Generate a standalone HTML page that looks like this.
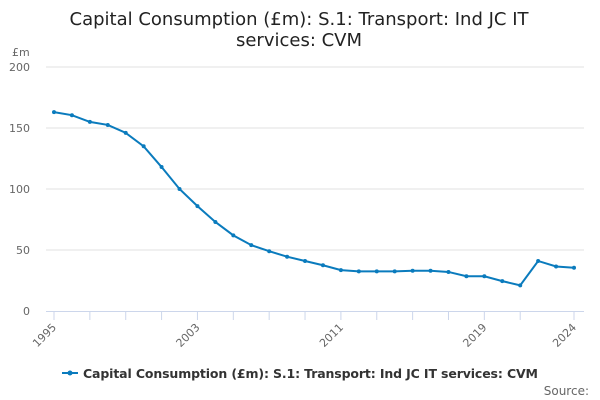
<!DOCTYPE html>
<html><head><meta charset="utf-8"><style>
body{margin:0;background:#fff;font-family:"DejaVu Sans","Liberation Sans",sans-serif;}
svg{display:block}
</style></head><body>
<svg id="chart" width="600" height="400" font-family="DejaVu Sans, Liberation Sans, sans-serif">
<text x="299" y="25" text-anchor="middle" font-size="18" fill="#222">Capital Consumption (£m): S.1: Transport: Ind JC IT</text>
<text x="299" y="46" text-anchor="middle" font-size="18" fill="#222">services: CVM</text>
<text x="12" y="56" font-size="11" fill="#666">£m</text>
<g id="grid"></g><g id="xaxis"></g><g id="series"></g>
<g>
<line x1="62" y1="373" x2="78" y2="373" stroke="#0a7bbd" stroke-width="2"/>
<circle cx="70" cy="373" r="2.5" fill="#0a7bbd"/>
<text x="83" y="378" font-size="12.5" font-weight="bold" fill="#333" textLength="455">Capital Consumption (£m): S.1: Transport: Ind JC IT services: CVM</text>
</g>
<text x="589" y="395" text-anchor="end" font-size="12" fill="#666">Source:</text>
</svg>
<script>
const years=[1995,1996,1997,1998,1999,2000,2001,2002,2003,2004,2005,2006,2007,2008,2009,2010,2011,2012,2013,2014,2015,2016,2017,2018,2019,2020,2021,2022,2023,2024];
const values=[163,160.5,155,152.5,146,135,118,100,86,73,62,54,49,44.5,41,37.5,33.5,32.5,32.5,32.5,33,33,32,28.5,28.5,24.5,21,41,36.5,35.5];
const yTicks=[0,50,100,150,200];
const xLabels=[1995,2003,2011,2019,2024];
const NS="http://www.w3.org/2000/svg";
const xs=y=>54+(y-1995)*(520/29);
const ys=v=>311-v*1.22;
function mk(tag,attrs,parent){const e=document.createElementNS(NS,tag);for(const k in attrs)e.setAttribute(k,attrs[k]);parent.appendChild(e);return e;}
const grid=document.getElementById('grid');
yTicks.forEach(t=>{
  if(t>0){const l=mk('line',{x1:46,x2:584,y1:ys(t),y2:ys(t),stroke:'#e0e0e0'},grid);
  
  }
  const tx=mk('text',{x:30,y:ys(t)+4,'text-anchor':'end','font-size':11,fill:'#666'},grid);
  tx.textContent=t;
  
  
});
const xa=document.getElementById('xaxis');
const ax=mk('line',{x1:46,x2:584,y1:311.5,y2:311.5,stroke:'#ccd6eb'},xa);


for(let y=1995;y<=2024;y+=2){
  const yy=y===2023?2024:y;
  const tk=mk('line',{x1:xs(yy),x2:xs(yy),y1:311,y2:320,stroke:'#ccd6eb'},xa);
  
  
}
xLabels.forEach(y=>{
  const t=mk('text',{x:xs(y)+3,y:328,'text-anchor':'end','font-size':11,fill:'#666',transform:`rotate(-45 ${xs(y)+3} 328)`},xa);
  t.textContent=y;
  
  
});
const s=document.getElementById('series');
const p=mk('polyline',{points:years.map((y,i)=>xs(y)+','+ys(values[i])).join(' '),fill:'none',stroke:'#0a7bbd','stroke-width':2},s);


years.forEach((y,i)=>{
  const c=mk('circle',{cx:xs(y),cy:ys(values[i]),r:2,fill:'#0a7bbd'},s);
  
  
});
</script>
</body></html>
